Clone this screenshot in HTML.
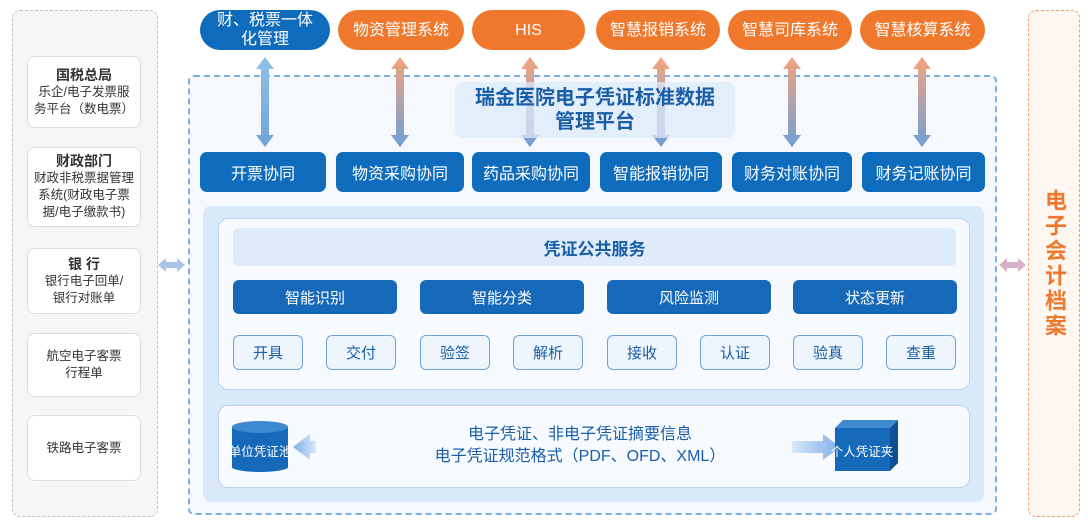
<!DOCTYPE html>
<html><head><meta charset="utf-8"><style>
*{margin:0;padding:0;box-sizing:border-box}
body{width:1088px;height:524px;background:#fff;position:relative;overflow:hidden;font-family:"Liberation Sans","Noto Sans CJK SC",sans-serif}
.a{position:absolute;display:flex;align-items:center;justify-content:center;text-align:center}
.pill{top:10px;height:40px;border-radius:20px;color:#fff;font-size:16px;line-height:19px}
.bl{background:#0f6cbd}.or{background:#f0782d}
.r2{top:152px;height:40px;border-radius:7px;background:#0f6cbd;color:#fff;font-size:16px}
.lb{left:27px;width:114px;background:#fff;border:1px solid #ddd;border-radius:8px;font-size:12.5px;color:#333;line-height:17px;flex-direction:column}
.lb b{font-size:14px;color:#333}
.m{top:280px;height:34px;border-radius:6px;background:#1668b8;color:#fff;font-size:15px;width:164px}
.s{top:335px;height:35px;width:70px;border-radius:6px;background:#eef5fd;border:1px solid #6ea3d8;color:#1a5ea8;font-size:15px}
</style></head><body>
<div class="a" style="left:12px;top:10px;width:146px;height:507px;border:1.5px dashed #c4c4c4;border-radius:8px;background:#f6f6f6"></div>
<div class="a lb" style="top:56px;height:72px"><b>国税总局</b>乐企/电子发票服<br>务平台（数电票）</div>
<div class="a lb" style="top:147px;height:80px"><b>财政部门</b>财政非税票据管理<br>系统(财政电子票<br>据/电子缴款书)</div>
<div class="a lb" style="top:248px;height:66px"><b>银 行</b>银行电子回单/<br>银行对账单</div>
<div class="a lb" style="top:333px;height:64px">航空电子客票<br>行程单</div>
<div class="a lb" style="top:415px;height:66px">铁路电子客票</div>
<div class="a" style="left:1028px;top:10px;width:52px;height:507px;border:1.5px dashed #f0a070;border-radius:8px;background:#fff7f1;color:#f0782d;font-size:22px;font-weight:bold;line-height:30px;letter-spacing:3px;writing-mode:vertical-rl">电子会计档案</div>
<div class="a" style="left:188px;top:75px;width:809px;height:440px;border:2px dashed #7fb0e0;border-radius:6px;background:#f5f9fe"></div>
<svg style="position:absolute;left:0;top:0" width="1088" height="524">
<defs><linearGradient id="g1" x1="0" y1="0" x2="0" y2="1"><stop offset="0" stop-color="#8ec0e6"/><stop offset="1" stop-color="#6fa6d6"/></linearGradient>
<linearGradient id="g2" x1="0" y1="0" x2="0" y2="1"><stop offset="0" stop-color="#f5a57c"/><stop offset="1" stop-color="#6f9fd8"/></linearGradient>
<g id="ar"><polygon points="0,-45 9,-33 4,-33 4,33 9,33 0,45 -9,33 -4,33 -4,-33 -9,-33"/></g></defs>
<use href="#ar" x="265" y="102" fill="url(#g1)"/>
<use href="#ar" x="400" y="102" fill="url(#g2)"/>
<use href="#ar" x="530" y="102" fill="url(#g2)"/>
<use href="#ar" x="661" y="102" fill="url(#g2)"/>
<use href="#ar" x="792" y="102" fill="url(#g2)"/>
<use href="#ar" x="922" y="102" fill="url(#g2)"/>
<polygon points="158,265 166,258 166,262 177,262 177,258 185,265 177,272 177,268 166,268 166,272" fill="#a9c4e6"/>
<polygon points="999,265 1007,258 1007,262 1018,262 1018,258 1026,265 1018,272 1018,268 1007,268 1007,272" fill="#d8b0c8"/>
</svg>
<div class="a" style="left:455px;top:82px;width:280px;height:56px;background:rgba(220,234,250,0.75);border-radius:8px;color:#1a5ea8;font-size:20px;font-weight:bold;line-height:24px">瑞金医院电子凭证标准数据<br>管理平台</div>
<div class="a pill bl" style="left:200px;width:130px">财、税票一体<br>化管理</div>
<div class="a pill or" style="left:338px;width:126px">物资管理系统</div>
<div class="a pill or" style="left:472px;width:113px">HIS</div>
<div class="a pill or" style="left:596px;width:124px">智慧报销系统</div>
<div class="a pill or" style="left:728px;width:124px">智慧司库系统</div>
<div class="a pill or" style="left:860px;width:125px">智慧核算系统</div>
<div class="a r2" style="left:200px;width:126px">开票协同</div>
<div class="a r2" style="left:336px;width:128px">物资采购协同</div>
<div class="a r2" style="left:472px;width:118px">药品采购协同</div>
<div class="a r2" style="left:600px;width:122px">智能报销协同</div>
<div class="a r2" style="left:732px;width:120px">财务对账协同</div>
<div class="a r2" style="left:862px;width:123px">财务记账协同</div>
<div class="a" style="left:203px;top:206px;width:781px;height:296px;background:#d9e9fa;border-radius:8px"></div>
<div class="a" style="left:218px;top:218px;width:752px;height:172px;background:#f7fbff;border:1px solid #b8d4f0;border-radius:10px"></div>
<div class="a" style="left:233px;top:228px;width:723px;height:38px;background:#deebfa;border-radius:6px;color:#1a5ea8;font-size:17px;font-weight:bold">凭证公共服务</div>
<div class="a m" style="left:233px">智能识别</div>
<div class="a m" style="left:420px">智能分类</div>
<div class="a m" style="left:607px">风险监测</div>
<div class="a m" style="left:793px">状态更新</div>
<div class="a s" style="left:233px">开具</div>
<div class="a s" style="left:326px">交付</div>
<div class="a s" style="left:420px">验签</div>
<div class="a s" style="left:513px">解析</div>
<div class="a s" style="left:607px">接收</div>
<div class="a s" style="left:700px">认证</div>
<div class="a s" style="left:793px">验真</div>
<div class="a s" style="left:886px">查重</div>
<div class="a" style="left:218px;top:405px;width:752px;height:83px;background:#f7fbff;border:1px solid #b8d4f0;border-radius:10px"></div>
<svg style="position:absolute;left:0;top:0" width="1088" height="524">
<defs><linearGradient id="h1" x1="0" x2="1"><stop offset="0" stop-color="#7fb0ea"/><stop offset="1" stop-color="#d8e8f8"/></linearGradient>
<linearGradient id="h2" x1="0" x2="1"><stop offset="0" stop-color="#d8e8f8"/><stop offset="1" stop-color="#7fb0ea"/></linearGradient></defs>
<rect x="232" y="427" width="56" height="40" fill="#1668b8"/>
<ellipse cx="260" cy="467" rx="28" ry="5" fill="#1668b8"/>
<ellipse cx="260" cy="427" rx="28" ry="6" fill="#3d8ad0"/>
<text x="260" y="456" font-size="12.5" fill="#fff" text-anchor="middle" font-family="Liberation Sans,Noto Sans CJK SC,sans-serif">单位凭证池</text>
<polygon points="293,447 310,434 310,441 316,441 316,453 310,453 310,460" fill="url(#h1)"/>
<polygon points="792,441 823,441 823,434 840,447 823,460 823,453 792,453" fill="url(#h2)"/>
<polygon points="835,428 843,420 898,420 890,428" fill="#3d8ad0"/>
<polygon points="890,428 898,420 898,463 890,471" fill="#0d4f92"/>
<rect x="835" y="428" width="55" height="43" fill="#1668b8"/>
<text x="862" y="456" font-size="12.5" fill="#fff" text-anchor="middle" font-family="Liberation Sans,Noto Sans CJK SC,sans-serif">个人凭证夹</text>
</svg>
<div class="a" style="left:380px;top:422px;width:400px;height:48px;color:#1a5ea8;font-size:16px;line-height:22px">电子凭证、非电子凭证摘要信息<br>电子凭证规范格式（PDF、OFD、XML）</div>
</body></html>
